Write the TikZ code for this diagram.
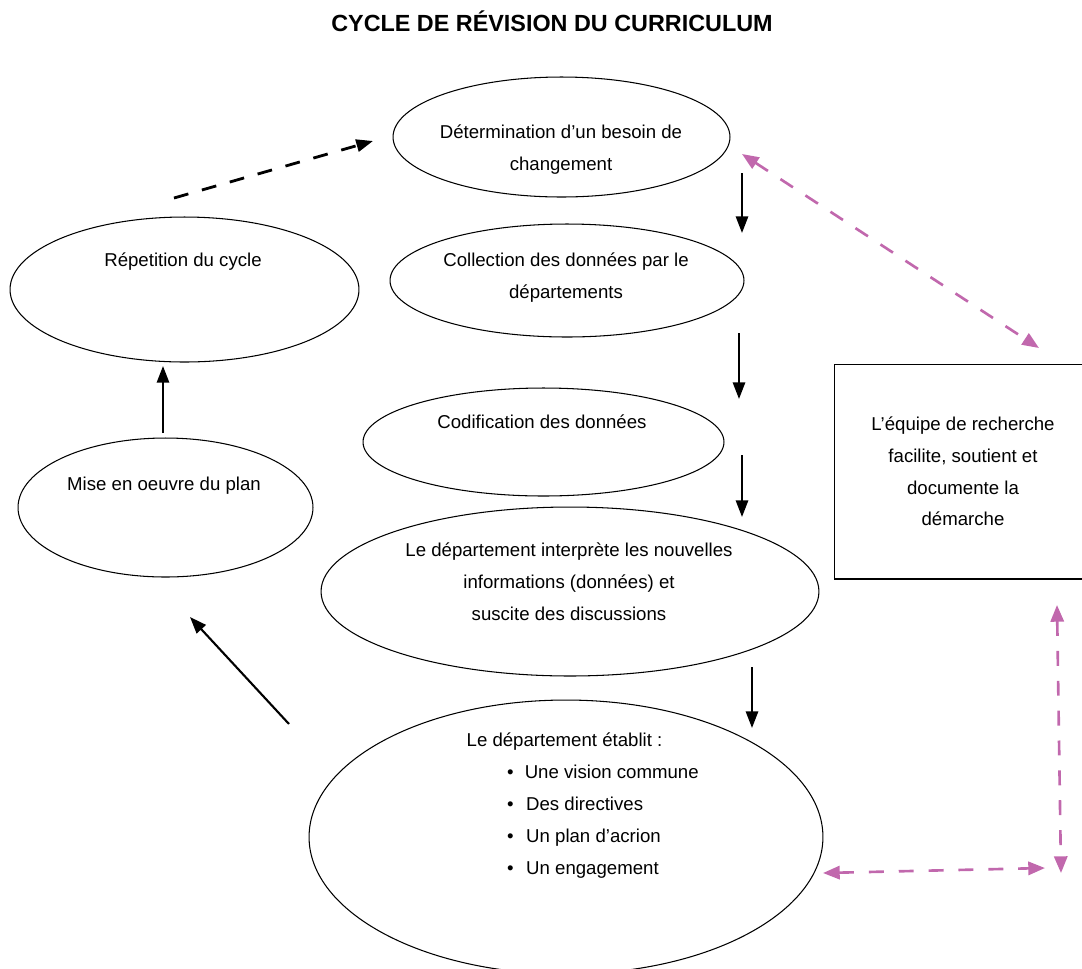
\documentclass[tikz,border=0pt]{standalone}
\usepackage{fontspec}
\setmainfont{Liberation Sans}
\usetikzlibrary{arrows.meta,shapes.geometric}
\definecolor{rose}{RGB}{193,104,173}

\begin{document}
\begin{tikzpicture}[
    x=0.02cm, y=-0.02cm,
    bulle/.style={ellipse, draw, line width=0.6pt, inner sep=0pt},
    cadre/.style={rectangle, draw, line width=0.6pt, inner sep=0pt},
    texte/.style={align=center, font=\fontsize{10.6}{18.1}\selectfont},
    fleche/.style={-{Triangle[length=9.5pt,width=7pt]}, line width=1.2pt},
    pointille/.style={fleche, line width=1.6pt, dash pattern=on 8.5pt off 8pt},
    lien/.style={{Triangle[length=9.5pt,width=7.5pt]}-{Triangle[length=9.5pt,width=7.5pt]}, rose, line width=1.5pt, dash pattern=on 8.5pt off 8.5pt}
]

\useasboundingbox (0,0) rectangle (1082,968);

% Titre
\node[font=\fontsize{13.3}{16}\selectfont\bfseries] (titre) at (552,21) {CYCLE DE RÉVISION DU CURRICULUM};

% Etapes du cycle
\node[bulle, minimum width=6.74cm, minimum height=2.4cm] (besoin) at (561.5,137) {};
\node[texte] (besoin-t) at (561,149.5) {Détermination d’un besoin de\\changement};

\node[bulle, minimum width=7.08cm, minimum height=2.26cm] (collecte) at (567,280.5) {};
\node[texte] (collecte-t) at (566,277.5) {Collection des données par le\\départements};

\node[bulle, minimum width=7.22cm, minimum height=2.16cm] (codif) at (543.5,442) {};
\node[texte] (codif-t) at (542,422) {Codification des données};

\node[bulle, minimum width=9.96cm, minimum height=3.38cm] (interp) at (570,591.5) {};
\node[texte] (interp-t) at (569,582) {Le département interprète les nouvelles\\informations (données) et\\suscite des discussions};

\node[bulle, minimum width=10.28cm, minimum height=5.48cm] (etablit) at (566,837) {};
\node[texte] (etablit-t) at (564.5,742) {Le département établit :};
\node[texte, align=left, anchor=west] (liste) at (501,821.5) {%
    \makebox[10pt][l]{•}Une vision commune\\
    \makebox[10.8pt][l]{•}Des directives\\
    \makebox[10.8pt][l]{•}Un plan d’acrion\\
    \makebox[10.8pt][l]{•}Un engagement};

\node[bulle, minimum width=6.98cm, minimum height=2.9cm] (repet) at (184.5,289.5) {};
\node[texte] (repet-t) at (183,262) {Répetition du cycle};

\node[bulle, minimum width=5.9cm, minimum height=2.78cm] (mise) at (165.5,507.5) {};
\node[texte] (mise-t) at (164,486) {Mise en oeuvre du plan};

% Equipe de recherche
\node[cadre, texte, minimum width=5.16cm, minimum height=4.3cm] (equipe) at (963,471.5) {L’équipe de recherche\\facilite, soutient et\\documente la\\démarche};

% Bouts des fleches
\coordinate (r1) at (174,198);  \coordinate (r2) at (373,141);
\coordinate (a1) at (742,173);  \coordinate (b1) at (742,233);
\coordinate (a2) at (739,333);  \coordinate (b2) at (739,399);
\coordinate (a3) at (742,455);  \coordinate (b3) at (742,517);
\coordinate (a4) at (752,667);  \coordinate (b4) at (752,728);
\coordinate (m1) at (163,433);  \coordinate (m2) at (163,366);
\coordinate (d1) at (289,724);  \coordinate (d2) at (190,617);
\coordinate (p1) at (742,154);  \coordinate (p2) at (1039,348);
\coordinate (q1) at (1057,605); \coordinate (q2) at (1061,873);
\coordinate (s1) at (823,873);  \coordinate (s2) at (1045,868);

% Fleches
\draw[pointille] (r1) -- (r2);
\draw[fleche] (a1) -- (b1);
\draw[fleche] (a2) -- (b2);
\draw[fleche] (a3) -- (b3);
\draw[fleche] (a4) -- (b4);
\draw[fleche] (m1) -- (m2);
\draw[fleche] (d1) -- (d2);

% Liens avec l'equipe
\draw[lien] (p1) -- (p2);
\draw[lien] (q1) -- (q2);
\draw[lien] (s1) -- (s2);

\end{tikzpicture}
\end{document}
